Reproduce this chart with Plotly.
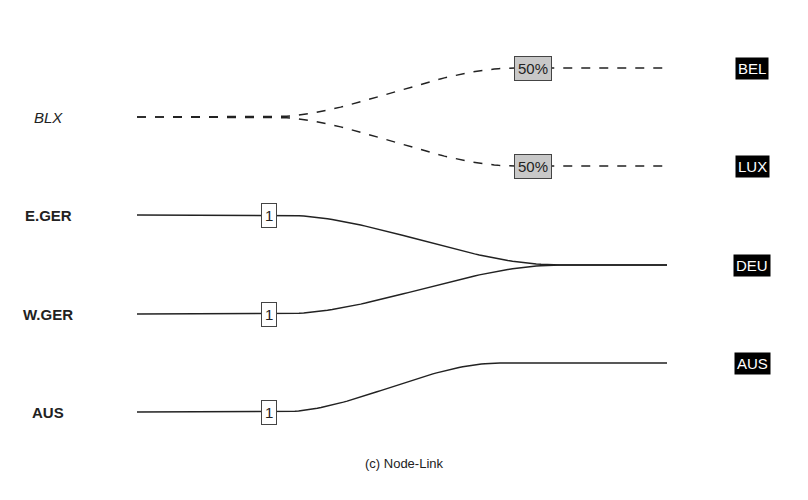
import numpy as np
import plotly.graph_objects as go

# pixel-space layout of the node-link diagram
sources = ["BLX", "E.GER", "W.GER", "AUS"]
source_y = [117, 215, 314, 412]
targets = ["BEL", "LUX", "DEU", "AUS"]
target_y = [68, 166, 265, 363]

# links: (source index, target index, label, curve start x, curve end x)
link_src = [0, 0, 1, 2, 3]
link_tgt = [0, 1, 2, 2, 3]
link_label = ["50%", "50%", "1", "1", "1"]
link_label_x = [533, 533, 269, 269, 269]
curve_x0 = [270, 270, 280, 280, 280]
curve_x1 = [515, 515, 560, 560, 500]

X_START, X_END = 137, 667

fig = go.Figure()
for s, t, lab, lx, c0, c1 in zip(link_src, link_tgt, link_label, link_label_x, curve_x0, curve_x1):
    y0, y1 = source_y[s], target_y[t]
    xs = np.concatenate([[X_START], np.linspace(c0, c1, 60), [X_END]])
    u = np.clip((xs - c0) / (c1 - c0), 0, 1)
    ys = y0 + (y1 - y0) * (3 * u**2 - 2 * u**3)
    dashed = sources[s] == "BLX"
    fig.add_trace(go.Scatter(x=xs, y=ys, mode="lines",
                             line=dict(color="#222", width=1.5, dash="dash" if dashed else "solid"),
                             hoverinfo="skip", showlegend=False))
    ly = np.interp(lx, xs, ys)
    fig.add_annotation(x=lx, y=ly, text=lab, showarrow=False,
                       font=dict(family="Liberation Sans", size=15, color="#222"),
                       bgcolor="#c8c8c8" if dashed else "white",
                       bordercolor="#444", borderwidth=1, borderpad=3)

for name, y in zip(sources, source_y):
    italic = name == "BLX"
    fig.add_annotation(x=48, y=y, text=f"<i>{name}</i>" if italic else f"<b>{name}</b>",
                       showarrow=False, font=dict(family="Liberation Sans", size=15, color="#222"))

for name, y in zip(targets, target_y):
    fig.add_annotation(x=752, y=y, text=name, showarrow=False,
                       font=dict(family="Liberation Sans", size=15, color="white"),
                       bgcolor="black", borderpad=2)

fig.add_annotation(x=404, y=463, text="(c) Node-Link", showarrow=False,
                   font=dict(family="Liberation Sans", size=13, color="#222"))

fig.update_layout(width=808, height=500, margin=dict(l=0, r=0, t=0, b=0),
                  plot_bgcolor="white", paper_bgcolor="white")
fig.update_xaxes(range=[8, 816], visible=False, fixedrange=True)
fig.update_yaxes(range=[508, 8], visible=False, fixedrange=True)
fig.write_html("out.html")
